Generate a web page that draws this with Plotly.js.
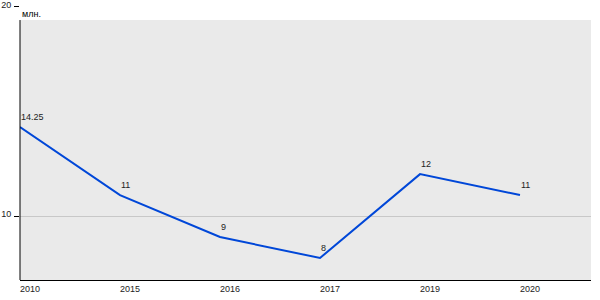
<!DOCTYPE html>
<html>
<head>
<meta charset="utf-8">
<script src="https://cdn.plot.ly/plotly-3.0.1.min.js"></script>
<style>html,body{margin:0;padding:0;background:#fff;}#chart{width:600px;height:300px;}</style>
</head>
<body>
<div id="chart"></div>
<script>
var years = ["2010", "2015", "2016", "2017", "2019", "2020"];
var values = [14.25, 11, 9, 8, 12, 11];
var valueLabels = ["14.25", "11", "9", "8", "12", "11"];
var unitLabel = "млн.";
var yTicks = [10, 20];

var yMin = 6.95, yMax = 20.02, greyTop = 19.35;
var gridColor = "#c8c8c8";
var fontFam = "Liberation Sans, Arial, sans-serif";

var trace = {
  type: "scatter",
  mode: "lines",
  x: years,
  y: values,
  line: {color: "#0047d8", width: 2},
  hoverinfo: "skip"
};

var shapes = [
  {type: "rect", xref: "paper", yref: "y", x0: 0, x1: 1, y0: yMin, y1: greyTop,
   fillcolor: "#eaeaea", line: {width: 0}, layer: "below"}
];
years.forEach(function (yr) {
  shapes.push({type: "line", xref: "x", yref: "y", x0: yr, x1: yr, y0: yMin, y1: greyTop,
    line: {color: gridColor, width: 1}, layer: "below"});
});
shapes.push({type: "line", xref: "paper", yref: "y", x0: 0, x1: 0, y0: yMin, y1: greyTop,
  line: {color: "#000", width: 1}, layer: "above"});

var annotations = [
  {xref: "paper", yref: "paper", x: 0, y: 1, xanchor: "left", yanchor: "top",
   yshift: -1, text: unitLabel, showarrow: false,
   font: {family: fontFam, size: 9, color: "#000"}}
];
years.forEach(function (yr, i) {
  annotations.push({xref: "x", yref: "y", x: i, y: values[i],
    xanchor: "left", yanchor: "bottom", xshift: -1, yshift: 3,
    text: valueLabels[i], showarrow: false,
    font: {family: fontFam, size: 9, color: "#222"}});
});

var layout = {
  width: 600, height: 300,
  margin: {l: 20, r: 9, t: 6, b: 20},
  paper_bgcolor: "#ffffff",
  plot_bgcolor: "#ffffff",
  showlegend: false,
  font: {family: fontFam, size: 9, color: "#222"},
  xaxis: {
    type: "category",
    range: [0, 5.71],
    showgrid: false,
    showline: true, linecolor: "#000", linewidth: 1,
    ticks: "", ticklabelshift: 10, ticklabelstandoff: 0,
    ticklabeloverflow: "allow",
    tickfont: {size: 9, color: "#222"},
    zeroline: false, fixedrange: true
  },
  yaxis: {
    range: [yMin, yMax],
    tickvals: yTicks,
    ticktext: yTicks.map(String),
    showgrid: true, gridcolor: gridColor, gridwidth: 1,
    showline: false,
    ticks: "outside", ticklen: 5, tickcolor: "#000", tickwidth: 1,
    ticklabelshift: -2, ticklabelstandoff: 1,
    ticklabeloverflow: "allow",
    tickfont: {size: 9, color: "#222"},
    zeroline: false, fixedrange: true
  },
  shapes: shapes,
  annotations: annotations
};

Plotly.newPlot("chart", [trace], layout, {staticPlot: true, displayModeBar: false});
</script>
</body>
</html>
